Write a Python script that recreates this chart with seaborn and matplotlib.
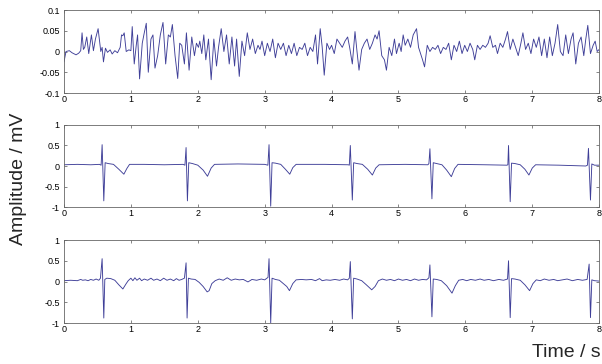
import matplotlib
matplotlib.use("Agg")
import matplotlib.pyplot as plt
import seaborn as sns
import pandas as pd

# ==========================
# Data (turning points of each trace)
# ==========================
top_t = [0.00, 0.03, 0.08, 0.12, 0.18, 0.22, 0.25, 0.27, 0.29, 0.31, 0.34, 0.37, 0.41, 0.44, 0.47, 0.51,
         0.55, 0.57, 0.59, 0.62, 0.65, 0.69, 0.72, 0.76, 0.80, 0.84, 0.86, 0.88, 0.90, 0.93, 0.97, 1.00,
         1.02, 1.05, 1.08, 1.10, 1.13, 1.17, 1.20, 1.23, 1.26, 1.30, 1.33, 1.36, 1.40, 1.44, 1.48, 1.52,
         1.56, 1.59, 1.62, 1.66, 1.70, 1.73, 1.76, 1.80, 1.83, 1.87, 1.91, 1.95, 1.98, 2.01, 2.03, 2.06,
         2.09, 2.12, 2.16, 2.20, 2.24, 2.28, 2.31, 2.35, 2.39, 2.43, 2.47, 2.51, 2.55, 2.58, 2.62, 2.66,
         2.70, 2.74, 2.78, 2.82, 2.86, 2.90, 2.93, 2.96, 3.00, 3.04, 3.08, 3.12, 3.16, 3.20, 3.24, 3.28,
         3.32, 3.36, 3.40, 3.44, 3.48, 3.52, 3.56, 3.60, 3.64, 3.68, 3.72, 3.76, 3.79, 3.83, 3.86, 3.89,
         3.93, 3.97, 4.00, 4.04, 4.08, 4.12, 4.16, 4.20, 4.24, 4.27, 4.31, 4.35, 4.38, 4.41, 4.45, 4.49,
         4.53, 4.57, 4.61, 4.65, 4.68, 4.71, 4.75, 4.79, 4.82, 4.86, 4.90, 4.94, 4.97, 5.01, 5.04, 5.07,
         5.10, 5.14, 5.18, 5.22, 5.27, 5.30, 5.33, 5.36, 5.39, 5.43, 5.47, 5.51, 5.55, 5.59, 5.63, 5.67,
         5.71, 5.75, 5.79, 5.83, 5.87, 5.91, 5.95, 5.99, 6.03, 6.07, 6.11, 6.14, 6.18, 6.22, 6.26, 6.30,
         6.34, 6.37, 6.41, 6.45, 6.48, 6.52, 6.56, 6.60, 6.63, 6.67, 6.71, 6.75, 6.79, 6.83, 6.86, 6.90,
         6.94, 6.98, 7.02, 7.06, 7.10, 7.14, 7.18, 7.22, 7.26, 7.30, 7.34, 7.38, 7.42, 7.46, 7.50, 7.54,
         7.58, 7.61, 7.65, 7.69, 7.73, 7.77, 7.80, 7.83, 7.87, 7.91, 7.94, 7.97, 8.00]
top_v = [-0.025, 0.000, 0.002, -0.003, -0.008, -0.004, 0.002, 0.045, 0.005, 0.010, 0.035, -0.005, 0.040, 0.002, 0.030, 0.055,
         0.000, 0.010, -0.025, 0.008, -0.002, 0.004, -0.006, 0.002, -0.003, 0.010, 0.040, 0.038, 0.045, 0.000, 0.004, 0.002,
         0.060, -0.030, 0.015, 0.040, -0.066, 0.020, 0.045, 0.068, -0.050, 0.030, 0.040, -0.040, -0.010, 0.040, 0.070, -0.030,
         0.040, 0.035, 0.065, -0.010, -0.065, 0.020, 0.015, -0.030, 0.045, -0.045, 0.035, -0.010, 0.020, 0.010, 0.025, -0.005,
         0.040, -0.020, 0.030, -0.068, 0.030, -0.035, 0.010, 0.055, 0.000, 0.040, -0.030, 0.035, -0.035, 0.030, -0.060, 0.025,
         -0.010, 0.045, 0.005, 0.030, -0.005, 0.015, 0.005, 0.025, -0.010, 0.020, 0.000, 0.030, -0.015, 0.020, 0.005, 0.020,
         -0.010, 0.015, -0.005, 0.020, -0.010, 0.010, 0.005, 0.020, -0.010, 0.010, 0.000, 0.040, -0.030, 0.055, 0.010, -0.057,
         0.020, 0.005, 0.015, -0.005, 0.030, 0.020, 0.010, 0.025, 0.035, 0.010, -0.030, 0.048, 0.000, -0.045, 0.005, 0.020,
         0.030, 0.005, 0.020, 0.040, 0.030, 0.050, -0.010, -0.020, -0.045, 0.010, -0.010, 0.030, -0.005, 0.020, 0.000, 0.040,
         0.015, 0.030, 0.010, 0.040, 0.055, 0.010, -0.005, -0.020, -0.037, 0.015, 0.000, 0.010, 0.005, 0.015, -0.005, 0.010,
         0.005, 0.020, -0.020, 0.015, 0.000, 0.025, -0.005, 0.015, 0.000, 0.020, 0.005, -0.020, 0.015, 0.005, 0.015, 0.010,
         0.020, 0.038, 0.010, 0.015, -0.005, 0.020, 0.010, 0.030, 0.048, 0.005, 0.030, 0.010, -0.010, 0.020, 0.045, 0.005,
         0.020, -0.005, 0.030, 0.010, 0.035, -0.010, 0.030, -0.015, 0.035, -0.010, 0.020, 0.065, 0.000, -0.010, 0.040, -0.005,
         0.030, 0.045, -0.030, 0.020, 0.035, -0.010, 0.030, 0.063, -0.005, 0.015, 0.025, 0.000, 0.005]

mid_t = [0.00, 0.20, 0.40, 0.53, 0.555, 0.57, 0.595, 0.615, 0.66, 0.74, 0.82, 0.895, 0.94, 0.98,
         1.20, 1.50, 1.78, 1.808, 1.825, 1.845, 1.865, 1.92, 2.00, 2.08, 2.145, 2.20, 2.25,
         2.60, 3.00, 3.048, 3.065, 3.09, 3.11, 3.16, 3.24, 3.31, 3.375, 3.42, 3.47,
         3.90, 4.25, 4.265, 4.28, 4.31, 4.33, 4.38, 4.46, 4.54, 4.61, 4.66, 4.71,
         5.10, 5.44, 5.455, 5.47, 5.50, 5.52, 5.57, 5.65, 5.72, 5.79, 5.84, 5.89,
         6.30, 6.62, 6.635, 6.645, 6.67, 6.69, 6.74, 6.82, 6.89, 6.95, 7.00, 7.05,
         7.40, 7.80, 7.825, 7.84, 7.87, 7.89, 7.93, 8.00]
mid_v = [0.03, 0.04, 0.03, 0.04, 0.02, 0.52, -0.85, 0.08, 0.06, 0.04, -0.08, -0.20, -0.06, 0.04,
         0.04, 0.03, 0.04, 0.02, 0.45, -0.85, 0.08, 0.06, 0.02, -0.10, -0.25, -0.05, 0.04,
         0.05, 0.04, 0.02, 0.52, -0.98, 0.08, 0.07, 0.04, -0.08, -0.20, -0.04, 0.04,
         0.04, 0.03, 0.02, 0.50, -0.83, 0.08, 0.06, 0.04, -0.08, -0.22, -0.05, 0.03,
         0.04, 0.03, 0.06, 0.42, -0.80, 0.08, 0.06, 0.03, -0.10, -0.26, -0.06, 0.04,
         0.03, 0.02, 0.03, 0.50, -0.87, 0.07, 0.06, 0.03, -0.08, -0.22, -0.05, 0.03,
         0.02, 0.00, 0.02, 0.43, -0.83, 0.05, 0.02, 0.02]

bot_t = [0.00, 0.10, 0.20, 0.25, 0.28, 0.32, 0.36, 0.40, 0.44, 0.48, 0.52, 0.545, 0.57, 0.595, 0.61,
         0.64, 0.70, 0.76, 0.82, 0.88, 0.93, 0.96, 1.00, 1.03, 1.06, 1.09, 1.13, 1.16, 1.20, 1.25,
         1.30, 1.34, 1.39, 1.44, 1.49, 1.54, 1.59, 1.64, 1.68, 1.72, 1.76, 1.80, 1.825, 1.84, 1.86,
         1.90, 1.96, 2.02, 2.08, 2.14, 2.17, 2.21, 2.26, 2.32, 2.38, 2.44, 2.50, 2.56, 2.62, 2.68,
         2.75, 2.81, 2.88, 2.95, 3.00, 3.05, 3.065, 3.09, 3.11, 3.16, 3.22, 3.28, 3.33, 3.37, 3.42,
         3.47, 3.55, 3.62, 3.70, 3.76, 3.82, 3.86, 3.92, 3.98, 4.05, 4.12, 4.18, 4.24, 4.265, 4.28,
         4.31, 4.33, 4.38, 4.45, 4.52, 4.60, 4.65, 4.70, 4.76, 4.82, 4.88, 4.94, 5.00, 5.06, 5.12,
         5.18, 5.24, 5.30, 5.36, 5.42, 5.455, 5.47, 5.50, 5.52, 5.57, 5.64, 5.72, 5.80, 5.85, 5.90,
         5.96, 6.02, 6.08, 6.15, 6.22, 6.28, 6.35, 6.42, 6.50, 6.57, 6.63, 6.645, 6.67, 6.69, 6.74,
         6.82, 6.89, 6.96, 7.01, 7.06, 7.12, 7.18, 7.25, 7.32, 7.38, 7.45, 7.52, 7.60, 7.68, 7.75,
         7.82, 7.85, 7.87, 7.89, 7.93, 8.00]
bot_v = [0.02, 0.03, 0.02, 0.05, 0.03, 0.04, 0.02, 0.05, 0.03, 0.06, 0.03, 0.08, 0.55, -0.88, 0.05,
         0.08, 0.07, 0.03, -0.08, -0.18, -0.05, 0.02, 0.08, 0.02, 0.09, 0.03, 0.08, 0.02, 0.06, 0.03,
         0.08, 0.03, 0.06, 0.02, 0.08, 0.03, 0.06, 0.02, 0.07, 0.03, 0.05, 0.08, 0.45, -0.88, 0.08,
         0.06, 0.05, -0.02, -0.12, -0.25, -0.22, -0.05, 0.02, 0.06, 0.03, 0.09, 0.03, 0.06, 0.04, 0.05,
         -0.01, 0.05, 0.03, 0.06, 0.04, 0.10, 0.55, -1.00, 0.08, 0.05, 0.03, -0.05, -0.12, -0.22, -0.05,
         0.04, 0.05, 0.04, 0.05, 0.02, 0.07, 0.02, 0.04, 0.03, 0.05, 0.03, 0.06, 0.04, 0.08, 0.48,
         -0.90, 0.08, 0.06, 0.02, -0.08, -0.20, -0.12, 0.02, 0.06, 0.03, 0.05, 0.02, 0.06, 0.03, 0.05,
         0.02, 0.06, 0.03, 0.05, 0.04, 0.09, 0.40, -0.85, 0.06, 0.05, 0.02, -0.10, -0.28, -0.10, 0.03,
         0.05, 0.02, 0.05, 0.03, 0.06, 0.03, 0.05, 0.02, 0.05, 0.03, 0.06, 0.50, -0.87, 0.07, 0.06,
         0.03, -0.08, -0.22, -0.05, 0.04, 0.02, 0.06, 0.03, 0.05, 0.02, 0.04, 0.06, 0.02, 0.05, 0.03,
         0.05, 0.42, -0.87, 0.04, 0.02, 0.01]

x_ticks = [0, 1, 2, 3, 4, 5, 6, 7, 8]
x_labels = ["0", "1", "2", "3", "4", "5", "6", "7", "8"]
top_ticks = [-0.1, -0.05, 0, 0.05, 0.1]
top_labels = ["-0.1", "-0.05", "0", "0.05", "0.1"]
ecg_ticks = [-1, -0.5, 0, 0.5, 1]
ecg_labels = ["-1", "-0.5", "0", "0.5", "1"]

# ==========================
# Figure
# ==========================
sns.set_style("ticks")
plt.rcParams["font.family"] = ["Liberation Sans", "DejaVu Sans"]
plt.rcParams["axes.unicode_minus"] = False

fig = plt.figure(figsize=(6.02, 3.64), dpi=100)
line_color = "#3f3f98"

panels = [
    (top_t, top_v, [0.1063, 0.7445, 0.889, 0.228], top_ticks, top_labels, (-0.1, 0.1)),
    (mid_t, mid_v, [0.1063, 0.4313, 0.889, 0.2253], ecg_ticks, ecg_labels, (-1, 1)),
    (bot_t, bot_v, [0.1063, 0.1126, 0.889, 0.228], ecg_ticks, ecg_labels, (-1, 1)),
]

for t, v, pos, yt, yl, ylim in panels:
    ax = fig.add_axes(pos)
    df = pd.DataFrame({"t": t, "v": v})
    sns.lineplot(data=df, x="t", y="v", ax=ax, color=line_color, linewidth=0.65,
                 estimator=None, sort=False)
    ax.set_xlim(0, 8)
    ax.set_ylim(*ylim)
    ax.set_xticks(x_ticks)
    ax.set_xticklabels(x_labels)
    ax.set_yticks(yt)
    ax.set_yticklabels(yl)
    ax.set_xlabel("")
    ax.set_ylabel("")
    ax.tick_params(direction="in", top=True, right=True, length=2.5, width=0.5,
                   labelsize=6.5, colors="#555555", labelcolor="black")
    ax.tick_params(axis="x", pad=1.5)
    ax.tick_params(axis="y", pad=3)
    for s in ax.spines.values():
        s.set_visible(True)
        s.set_linewidth(0.6)
        s.set_color("#666666")

fig.text(0.030, 0.51, "Amplitude / mV", rotation=90, fontsize=14,
         ha="center", va="center")
fig.text(0.997, 0.032, "Time / s", fontsize=14, ha="right", va="center")

plt.savefig("out.png", dpi=100)
plt.close()
